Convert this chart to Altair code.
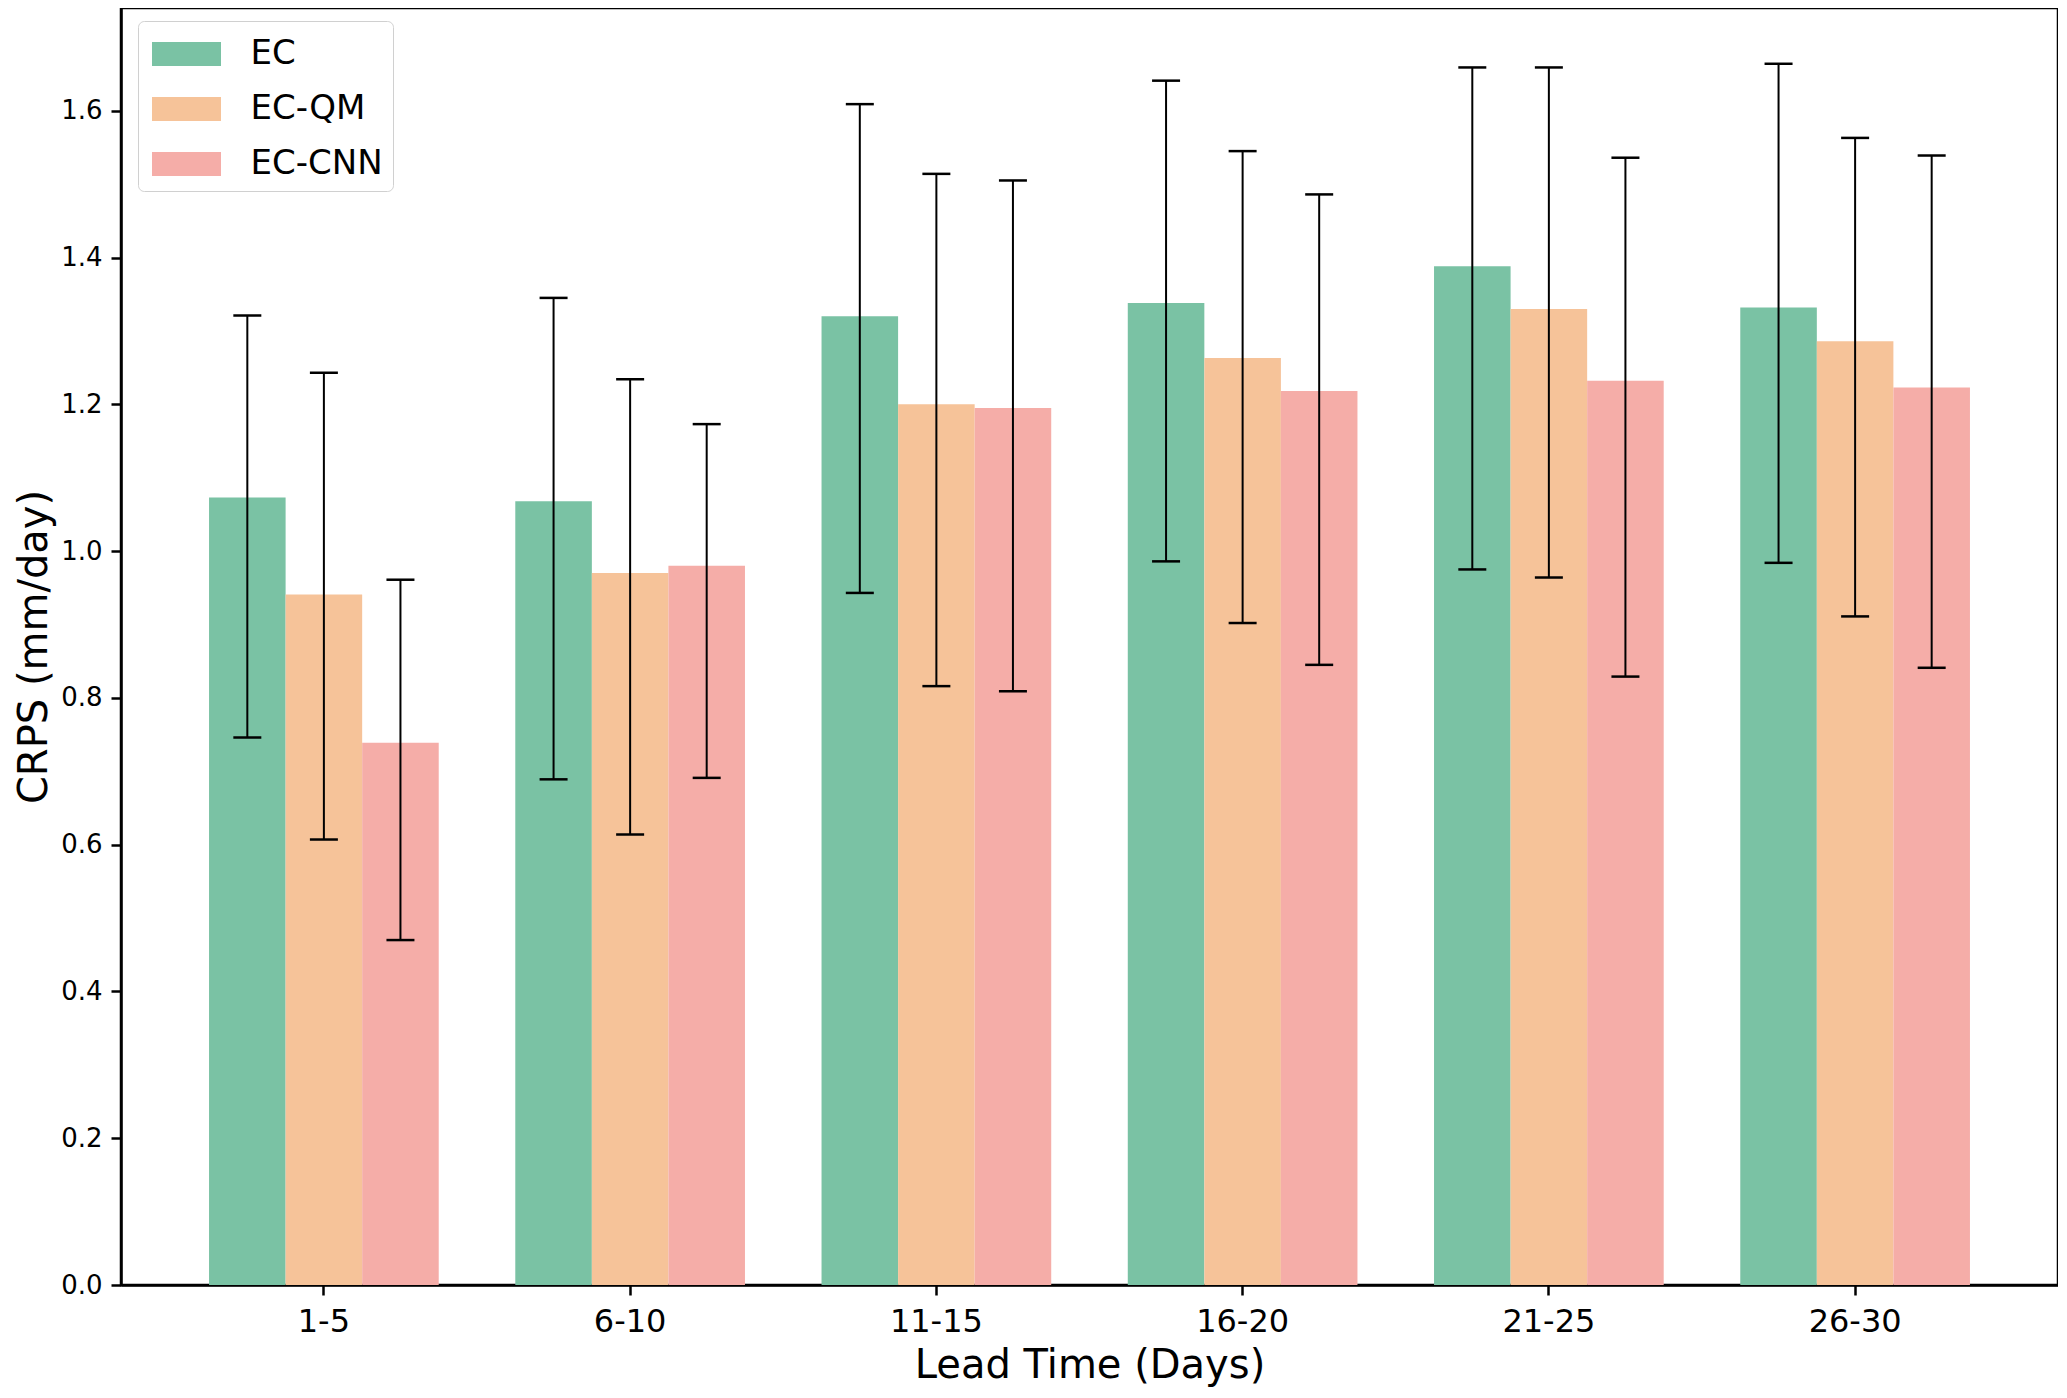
import altair as alt
import pandas as pd

lead_times = ["1-5", "6-10", "11-15", "16-20", "21-25", "26-30"]
models = ["EC", "EC-QM", "EC-CNN"]
colors = ["#7AC2A4", "#F6C399", "#F5ADA8"]

ec_mean = [1.073, 1.068, 1.320, 1.338, 1.388, 1.332]
ec_lo = [0.746, 0.689, 0.943, 0.986, 0.975, 0.984]
ec_hi = [1.321, 1.345, 1.609, 1.641, 1.659, 1.664]

qm_mean = [0.941, 0.970, 1.200, 1.263, 1.330, 1.286]
qm_lo = [0.607, 0.614, 0.816, 0.902, 0.964, 0.911]
qm_hi = [1.243, 1.234, 1.514, 1.545, 1.659, 1.563]

cnn_mean = [0.739, 0.980, 1.195, 1.218, 1.232, 1.223]
cnn_lo = [0.470, 0.691, 0.809, 0.845, 0.829, 0.841]
cnn_hi = [0.961, 1.173, 1.505, 1.486, 1.536, 1.539]

series = {
    "EC": (ec_mean, ec_lo, ec_hi),
    "EC-QM": (qm_mean, qm_lo, qm_hi),
    "EC-CNN": (cnn_mean, cnn_lo, cnn_hi),
}

rows = []
for m in models:
    mean, lo, hi = series[m]
    for i, lt in enumerate(lead_times):
        rows.append({"lead": lt, "model": m, "crps": mean[i], "lo": lo[i], "hi": hi[i]})
df = pd.DataFrame(rows)

FONT = "DejaVu Sans"

x_enc = alt.X(
    "lead:N",
    sort=lead_times,
    scale=alt.Scale(paddingInner=0.25, paddingOuter=0.2875),
    axis=alt.Axis(
        title="Lead Time (Days)",
        labelAngle=0,
        labelFontSize=32,
        labelPadding=11,
        titleFontSize=40,
        titlePadding=8,
    ),
)
xoff = alt.XOffset("model:N", sort=models, scale=alt.Scale(paddingInner=0, paddingOuter=0))
y_scale = alt.Scale(domain=[0, 1.74], nice=False, zero=True)

legend_shape = "M-1.5,-0.52L1.5,-0.52L1.5,0.52L-1.5,0.52Z"

bars = alt.Chart(df).mark_bar(opacity=1).encode(
    x=x_enc,
    xOffset=xoff,
    y=alt.Y(
        "crps:Q",
        scale=y_scale,
        axis=alt.Axis(
            title="CRPS (mm/day)",
            values=[0, 0.2, 0.4, 0.6, 0.8, 1.0, 1.2, 1.4, 1.6],
            format=".1f",
            labelFontSize=26,
            labelPadding=9,
            titleFontSize=40,
            titlePadding=6,
        ),
    ),
    color=alt.Color(
        "model:N",
        sort=models,
        scale=alt.Scale(domain=models, range=colors),
        legend=alt.Legend(
            title=None,
            orient="none",
            legendX=17,
            legendY=13,
            symbolType=legend_shape,
            symbolSize=2116,
            symbolOffset=15.5,
            symbolStrokeWidth=0,
            symbolOpacity=1,
            labelFontSize=34,
            labelOffset=41,
            labelFont=FONT,
            labelColor="black",
            rowPadding=15,
            padding=10,
            fillColor="rgba(255,255,255,0.8)",
            strokeColor="#d0d0d0",
            cornerRadius=6,
        ),
    ),
)

rules = alt.Chart(df).mark_rule(color="black", strokeWidth=2).encode(
    x=x_enc,
    xOffset=xoff,
    y=alt.Y("lo:Q", scale=y_scale),
    y2="hi:Q",
)

caps_hi = alt.Chart(df).mark_tick(color="black", thickness=2.5, size=28, opacity=1).encode(
    x=x_enc,
    xOffset=xoff,
    y=alt.Y("hi:Q", scale=y_scale),
)
caps_lo = alt.Chart(df).mark_tick(color="black", thickness=2.5, size=28, opacity=1).encode(
    x=x_enc,
    xOffset=xoff,
    y=alt.Y("lo:Q", scale=y_scale),
)

chart = (
    alt.layer(bars, rules, caps_hi, caps_lo)
    .properties(
        width=1937,
        height=1277,
        autosize=alt.AutoSizeParams(type="none"),
        padding={"left": 113, "top": 0, "right": 0, "bottom": 105},
    )
    .configure_view(stroke="black", strokeWidth=2.5)
    .configure_axis(
        grid=False,
        domainColor="black",
        domainWidth=2.5,
        tickColor="black",
        tickWidth=2.5,
        tickSize=10,
        labelFont=FONT,
        titleFont=FONT,
        labelColor="black",
        titleColor="black",
        titleFontWeight="normal",
    )
    .configure_legend(labelFont=FONT)
)

chart.save("out.html", embed_options={"renderer": "svg", "actions": False})
